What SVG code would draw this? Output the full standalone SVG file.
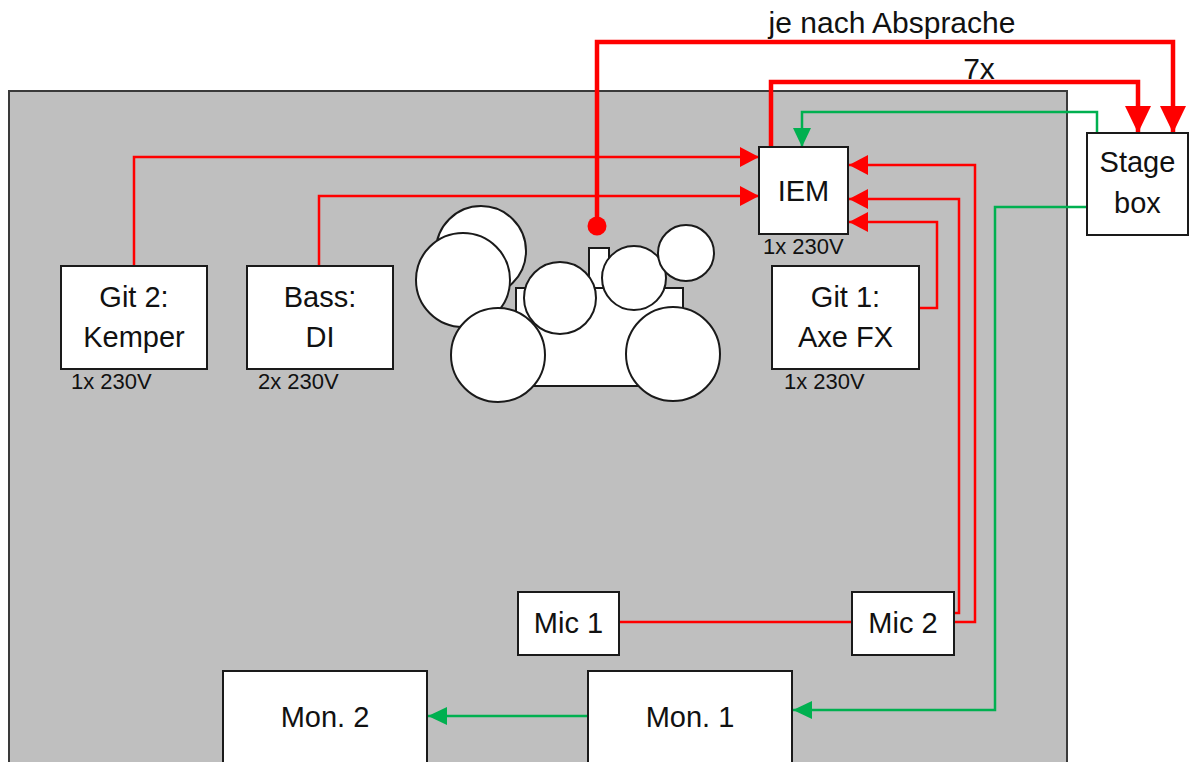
<svg xmlns="http://www.w3.org/2000/svg" width="1191" height="762" viewBox="0 0 1191 762">
<style>
.box{fill:#ffffff;stroke:#1a1a1a;stroke-width:2}
.drum{fill:#ffffff;stroke:#1a1a1a;stroke-width:2}
.lbl{font-family:"Liberation Sans",Arial,sans-serif;font-size:29px;fill:#111111;text-anchor:middle}
.pwr{font-family:"Liberation Sans",Arial,sans-serif;font-size:22px;fill:#111111}
.top{font-family:"Liberation Sans",Arial,sans-serif;font-size:30px;fill:#111111;text-anchor:middle}
.red{fill:none;stroke:#ff0000;stroke-width:2.5}
.redT{fill:none;stroke:#ff0000;stroke-width:4.5}
.grn{fill:none;stroke:#00b050;stroke-width:2.5}
</style>
<defs>
<marker id="aRed" markerUnits="userSpaceOnUse" markerWidth="19" markerHeight="20" refX="19" refY="10" orient="auto">
<path d="M0,0 L19,10 L0,20 z" fill="#ff0000"/>
</marker>
<marker id="aRedT" markerUnits="userSpaceOnUse" markerWidth="27" markerHeight="26" refX="27" refY="13" orient="auto">
<path d="M0,0 L27,13 L0,26 z" fill="#ff0000"/>
</marker>
<marker id="aGrn" markerUnits="userSpaceOnUse" markerWidth="19" markerHeight="18" refX="19" refY="9" orient="auto">
<path d="M0,0 L19,9 L0,18 z" fill="#00b050"/>
</marker>
</defs>
<rect x="0" y="0" width="1191" height="762" fill="#ffffff"/>
<g id="stage">
<rect x="9" y="91" width="1058" height="700" fill="#bfbfbf" stroke="#3a3a3a" stroke-width="2"/>
</g>
<g id="drums">
<circle class="drum" cx="481" cy="251" r="45"/>
<circle class="drum" cx="463" cy="280" r="47"/>
<rect class="drum" x="516" y="288" width="167" height="98"/>
<rect class="drum" x="589" y="248" width="20" height="40"/>
<circle class="drum" cx="560" cy="298" r="36"/>
<circle class="drum" cx="634" cy="278" r="32"/>
<circle class="drum" cx="686" cy="253" r="28"/>
<circle class="drum" cx="498" cy="355" r="47"/>
<circle class="drum" cx="673" cy="354" r="47"/>
</g>
<g id="connectors">
<path class="red" d="M134,266 V157 H759" marker-end="url(#aRed)"/>
<path class="red" d="M319,266 V196 H759" marker-end="url(#aRed)"/>
<path class="red" d="M919,308 H937 V222 H849" marker-end="url(#aRed)"/>
<path class="red" d="M954,613 H959 V199 H849" marker-end="url(#aRed)"/>
<path class="red" d="M954,622 H975 V165 H849" marker-end="url(#aRed)"/>
<path class="red" d="M619,622 H852"/>
<path class="redT" d="M771,147 V82 H1138 V133" marker-end="url(#aRedT)"/>
<path class="redT" d="M597,226 V42 H1173 V133" marker-end="url(#aRedT)"/>
<circle cx="597" cy="226" r="9.5" fill="#ff0000"/>
<path class="grn" d="M1097,133 V112 H802 V147" marker-end="url(#aGrn)"/>
<path class="grn" d="M1087,207 H995 V710 H793" marker-end="url(#aGrn)"/>
<path class="grn" d="M588,716 H428" marker-end="url(#aGrn)"/>
</g>
<g id="git2">
<rect class="box" x="61" y="266" width="146" height="103"/>
<text class="lbl" x="134" y="307">Git 2:</text>
<text class="lbl" x="134" y="347">Kemper</text>
<text class="pwr" x="71" y="389">1x 230V</text>
</g>
<g id="bass">
<rect class="box" x="247" y="266" width="146" height="103"/>
<text class="lbl" x="320" y="307">Bass:</text>
<text class="lbl" x="320" y="347">DI</text>
<text class="pwr" x="258" y="389">2x 230V</text>
</g>
<g id="git1">
<rect class="box" x="772" y="266" width="147" height="103"/>
<text class="lbl" x="845.5" y="307">Git 1:</text>
<text class="lbl" x="845.5" y="347">Axe FX</text>
<text class="pwr" x="784" y="389">1x 230V</text>
</g>
<g id="iem">
<rect class="box" x="759" y="147" width="89" height="87"/>
<text class="lbl" x="803.5" y="201">IEM</text>
<text class="pwr" x="763" y="254">1x 230V</text>
</g>
<g id="stagebox">
<rect class="box" x="1087" y="133" width="101" height="102"/>
<text class="lbl" x="1137.5" y="172">Stage</text>
<text class="lbl" x="1137.5" y="213">box</text>
</g>
<g id="mic1">
<rect class="box" x="518" y="592" width="101" height="63"/>
<text class="lbl" x="568.5" y="633">Mic 1</text>
</g>
<g id="mic2">
<rect class="box" x="852" y="592" width="102" height="63"/>
<text class="lbl" x="903" y="633">Mic 2</text>
</g>
<g id="mon1">
<rect class="box" x="588" y="671" width="204" height="120"/>
<text class="lbl" x="690" y="727">Mon. 1</text>
</g>
<g id="mon2">
<rect class="box" x="223" y="671" width="204" height="120"/>
<text class="lbl" x="325" y="727">Mon. 2</text>
</g>
<g id="labels">
<text class="top" x="892" y="33">je nach Absprache</text>
<text class="top" x="979" y="79">7x</text>
</g>
</svg>
